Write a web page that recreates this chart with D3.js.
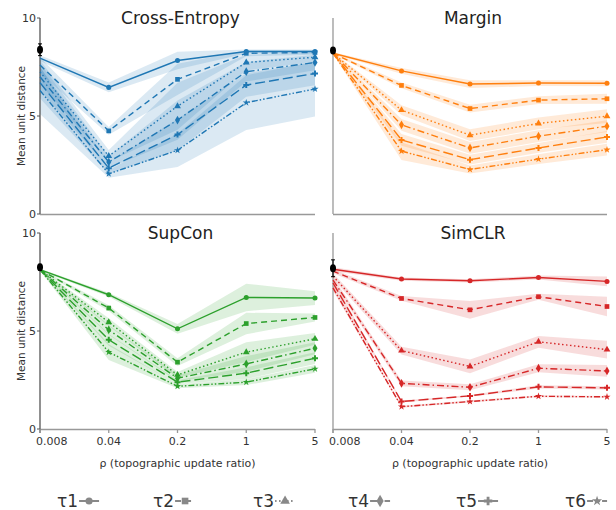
<!DOCTYPE html>
<html>
<head>
<meta charset="utf-8">
<script src="https://cdn.jsdelivr.net/npm/d3@7"></script>
<style>
  body { margin: 0; background: #fff; }
  svg { font-family: "DejaVu Sans", Verdana, sans-serif; }
</style>
</head>
<body>
<svg id="chart" width="616" height="510"></svg>
<script>

var rho = [0.008, 0.04, 0.2, 1, 5];
var rhoLabels = ["0.008", "0.04", "0.2", "1", "5"];
var yTicks = [0, 5, 10];
var taus = ["τ1", "τ2", "τ3", "τ4", "τ5", "τ6"];
var losses = ["Cross-Entropy", "Margin", "SupCon", "SimCLR"];
var lossColors = ["#1f77b4", "#ff7f0e", "#2ca02c", "#d62728"];

// mean unit distance, one row per tau
var ceMean = [
  [7.95, 6.46, 7.83, 8.29, 8.29],
  [7.6, 4.24, 6.87, 8.2, 8.24],
  [7.25, 2.96, 5.5, 7.73, 8.0],
  [7.0, 2.65, 4.79, 7.26, 7.73],
  [6.7, 2.34, 4.05, 6.58, 7.17],
  [6.3, 2.05, 3.25, 5.68, 6.38]
];
var ceStd = [
  [0.15, 0.25, 0.45, 0.1, 0.1],
  [0.4, 0.2, 0.8, 0.15, 0.12],
  [0.6, 0.3, 1.2, 0.4, 0.25],
  [0.7, 0.3, 1.0, 0.5, 0.4],
  [0.8, 0.3, 0.8, 0.6, 0.6],
  [1.2, 0.2, 0.85, 1.4, 1.4]
];
var marginMean = [
  [8.2, 7.3, 6.63, 6.68, 6.67],
  [8.2, 6.56, 5.38, 5.81, 5.88],
  [8.2, 5.3, 4.02, 4.62, 4.99],
  [8.2, 4.55, 3.37, 3.97, 4.48],
  [8.2, 3.78, 2.77, 3.37, 3.93],
  [8.2, 3.21, 2.27, 2.8, 3.28]
];
var marginStd = [
  [0.05, 0.15, 0.2, 0.15, 0.15],
  [0.05, 0.15, 0.2, 0.2, 0.25],
  [0.05, 0.25, 0.3, 0.3, 0.35],
  [0.05, 0.3, 0.3, 0.3, 0.3],
  [0.05, 0.3, 0.25, 0.25, 0.3],
  [0.05, 0.45, 0.2, 0.25, 0.3]
];
var supconMean = [
  [8.13, 6.85, 5.11, 6.71, 6.68],
  [8.13, 6.17, 3.41, 5.38, 5.69],
  [8.13, 5.45, 2.76, 3.92, 4.6],
  [8.13, 5.06, 2.59, 3.32, 4.12],
  [8.13, 4.55, 2.39, 2.85, 3.61],
  [8.13, 3.92, 2.18, 2.39, 3.07]
];
var supconStd = [
  [0.05, 0.1, 0.25, 0.7, 0.35],
  [0.05, 0.15, 0.2, 0.55, 0.2],
  [0.05, 0.2, 0.15, 0.5, 0.3],
  [0.05, 0.25, 0.15, 0.4, 0.3],
  [0.05, 0.3, 0.1, 0.3, 0.3],
  [0.05, 0.4, 0.1, 0.15, 0.2]
];
var simclrMean = [
  [8.15, 7.65, 7.56, 7.73, 7.53],
  [8.05, 6.66, 6.08, 6.75, 6.25],
  [7.8, 4.0, 3.19, 4.45, 4.05],
  [7.6, 2.33, 2.13, 3.1, 2.96],
  [7.45, 1.4, 1.69, 2.15, 2.1],
  [7.2, 1.14, 1.4, 1.67, 1.64]
];
var simclrStd = [
  [0.1, 0.08, 0.08, 0.1, 0.25],
  [0.1, 0.12, 0.45, 0.15, 0.5],
  [0.15, 0.2, 0.35, 0.3, 0.45],
  [0.15, 0.15, 0.15, 0.2, 0.3],
  [0.15, 0.05, 0.05, 0.08, 0.08],
  [0.15, 0.05, 0.05, 0.05, 0.05]
];
// untrained reference point at rho = 0.008
var refMean = [8.38, 8.34, 8.25, 8.2];
var refErr = [0.3, 0.1, 0.15, 0.43];

var allMean = [ceMean, marginMean, supconMean, simclrMean];
var allStd = [ceStd, marginStd, supconStd, simclrStd];

var svg = d3.select('#chart');

var dashes = ["none", "6,4", "1.5,2.5", "7,3,1.5,3", "10,4", "6,2,1.5,2,1.5,2"];
var symbols = [d3.symbolCircle, d3.symbolSquare, d3.symbolTriangle, d3.symbolDiamond, d3.symbolCross, d3.symbolStar];
var symSizes = [20, 22, 20, 22, 20, 16];

var panelX = [[40, 315], [333, 607]];
var panelY = [[18, 214], [233, 429]];

losses.forEach(function(name, p){
  var col = p % 2, row = Math.floor(p / 2);
  var x = d3.scaleLog().domain([0.008, 5]).range(panelX[col]);
  var y = d3.scaleLinear().domain([0, 10]).range([panelY[row][1], panelY[row][0]]);
  var color = lossColors[p];
  var g = svg.append('g');

  // bands first
  allMean[p].forEach(function(m, t){
    var s = allStd[p][t];
    var area = d3.area()
      .x(function(d, i){ return x(rho[i]); })
      .y0(function(d, i){ return y(d - s[i]); })
      .y1(function(d, i){ return y(d + s[i]); });
    g.append('path').attr('d', area(m))
      .attr('fill', color).attr('fill-opacity', 0.16).attr('stroke', 'none');
  });

  // axes
  g.append('line').attr('x1', panelX[col][0]).attr('x2', panelX[col][1])
    .attr('y1', y(0) + 0.5).attr('y2', y(0) + 0.5)
    .attr('stroke', '#999').attr('stroke-width', 1.3);
  g.append('line').attr('x1', panelX[col][0]).attr('x2', panelX[col][0])
    .attr('y1', y(10)).attr('y2', y(0) + (row == 1 ? 4 : 0))
    .attr('stroke', col == 0 ? '#555' : '#999').attr('stroke-width', 1.3);

  if (col == 0) {
    yTicks.forEach(function(v){
      g.append('line').attr('x1', panelX[col][0] - 3).attr('x2', panelX[col][0])
        .attr('y1', y(v)).attr('y2', y(v)).attr('stroke', '#555');
      g.append('text').attr('x', panelX[col][0] - 4).attr('y', y(v) + 4)
        .attr('text-anchor', 'end').attr('font-size', 11).attr('fill', '#333').text(v);
    });
    g.append('text')
      .attr('transform', 'translate(' + 25 + ',' + ((y(0) + y(10)) / 2) + ') rotate(-90)')
      .attr('text-anchor', 'middle').attr('font-size', 10.5).attr('fill', '#333')
      .text('Mean unit distance');
  }
  if (row == 1) {
    rho.forEach(function(r, i){
      g.append('line').attr('x1', x(r)).attr('x2', x(r))
        .attr('y1', y(0)).attr('y2', y(0) + 4).attr('stroke', '#999').attr('stroke-width', 1.3);
      g.append('text').attr('x', i == 0 ? x(r) - 4 : x(r)).attr('y', y(0) + 16)
        .attr('text-anchor', i == 0 ? 'start' : 'middle')
        .attr('font-size', 11).attr('fill', '#333').text(rhoLabels[i]);
    });
    g.append('text').attr('x', (panelX[col][0] + panelX[col][1]) / 2).attr('y', y(0) + 38)
      .attr('text-anchor', 'middle').attr('font-size', 11).attr('fill', '#333')
      .text('ρ (topographic update ratio)');
  }

  // title
  g.append('text').attr('x', (panelX[col][0] + panelX[col][1]) / 2 + 3).attr('y', y(10) + 6)
    .attr('text-anchor', 'middle').attr('font-size', 17).attr('fill', '#222').text(name);

  // lines and markers
  allMean[p].forEach(function(m, t){
    var line = d3.line().x(function(d, i){ return x(rho[i]); }).y(function(d){ return y(d); });
    g.append('path').attr('d', line(m)).attr('fill', 'none')
      .attr('stroke', color).attr('stroke-width', 1.4).attr('stroke-dasharray', dashes[t]);
    g.selectAll(null).data(m.slice(1)).enter().append('path')
      .attr('d', d3.symbol().type(symbols[t]).size(symSizes[t]))
      .attr('transform', function(d, i){ return 'translate(' + x(rho[i + 1]) + ',' + y(d) + ')'; })
      .attr('fill', color);
  });

  // reference point
  var rx = x(0.008);
  g.append('line').attr('x1', rx).attr('x2', rx)
    .attr('y1', y(refMean[p] - refErr[p])).attr('y2', y(refMean[p] + refErr[p]))
    .attr('stroke', '#000').attr('stroke-width', 1.2);
  [refMean[p] - refErr[p], refMean[p] + refErr[p]].forEach(function(v){
    g.append('line').attr('x1', rx - 2).attr('x2', rx + 2).attr('y1', y(v)).attr('y2', y(v))
      .attr('stroke', '#000').attr('stroke-width', 1);
  });
  g.append('ellipse').attr('cx', rx).attr('cy', y(refMean[p])).attr('rx', 3).attr('ry', 4).attr('fill', '#000');
});

// legend
var legendX = [57, 153, 253, 348, 456, 565];
taus.forEach(function(t, i){
  var lg = svg.append('g').attr('transform', 'translate(' + legendX[i] + ',' + 501 + ')');
  var txt = lg.append('text').attr('x', 0).attr('y', 6).attr('font-size', 17).attr('fill', '#333').text(t);
  var w = txt.node().getComputedTextLength();
  lg.append('line').attr('x1', w + 1).attr('x2', w + 21).attr('y1', 0).attr('y2', 0)
    .attr('stroke', '#888').attr('stroke-width', 2).attr('stroke-dasharray', dashes[i]);
  lg.append('path').attr('d', d3.symbol().type(symbols[i]).size(symSizes[i] * 2))
    .attr('transform', 'translate(' + (w + 11) + ',0)').attr('fill', '#888');
});

</script>
</body>
</html>
